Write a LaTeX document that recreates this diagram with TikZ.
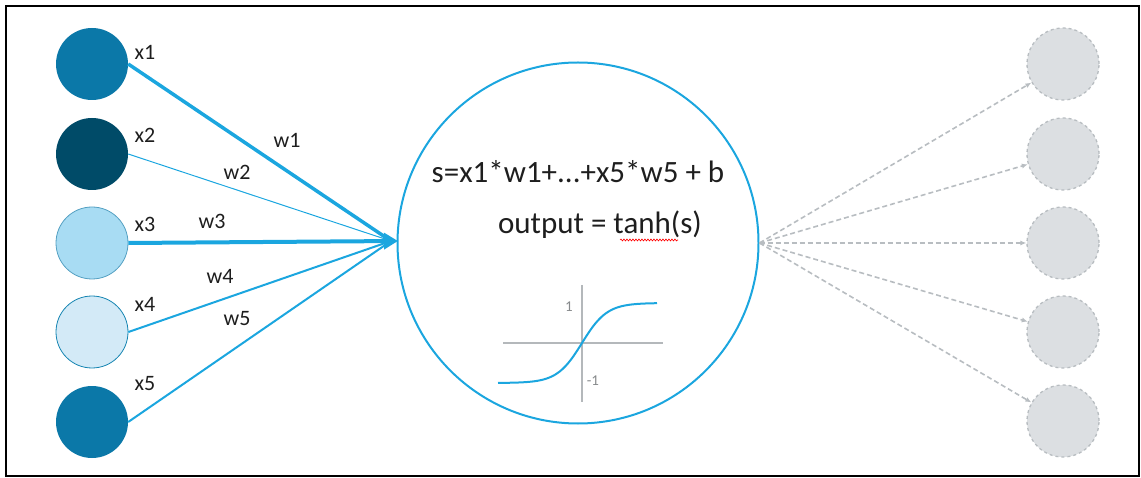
\documentclass[tikz,border=0pt]{standalone}
\usepackage{fontspec}
\setmainfont{Carlito}
\usetikzlibrary{arrows.meta,decorations.pathmorphing}
\definecolor{lineblue}{HTML}{1BA6DF}
\definecolor{midblue}{HTML}{0B78A8}
\definecolor{darkblue}{HTML}{004B68}
\definecolor{lightblue}{HTML}{A8DCF3}
\definecolor{paleblue}{HTML}{D3EAF7}
\definecolor{ghost}{HTML}{DCDFE2}
\definecolor{ghostline}{HTML}{B8BDC1}
\definecolor{axisgray}{HTML}{B4B8BB}
\definecolor{txt}{HTML}{1E1E1E}
\tikzset{
  innode/.style={circle, minimum size=72pt, inner sep=0pt},
  outnode/.style={circle, minimum size=72pt, inner sep=0pt, fill=ghost, draw=ghostline, dashed, line width=1.3pt},
  lbl/.style={font=\fontsize{22}{25}\selectfont, text=txt, inner sep=0pt},
  wire/.style={draw=lineblue},
  outwire/.style={draw=ghostline, dash pattern=on 5pt off 3pt, line width=1.6pt, -{Latex[length=6pt,width=5pt]}},
}
\begin{document}
\begin{tikzpicture}[x=1pt,y=-1pt]
\useasboundingbox (0,0) rectangle (1141,478);
\draw[black, line width=1.8pt] (6,6) rectangle (1139,476);

% input nodes
\node[innode, fill=midblue] (i1) at (92,64) {};
\node[innode, fill=darkblue] (i2) at (92,154) {};
\node[innode, fill=lightblue, draw=midblue!70, line width=0.8pt] (i3) at (92,243) {};
\node[innode, fill=paleblue, draw=lineblue!80!black, line width=0.8pt] (i4) at (92,332) {};
\node[innode, fill=midblue] (i5) at (92,422) {};

% neuron
\node[circle, minimum size=361pt, inner sep=0pt, draw=lineblue, line width=2pt] (n) at (578,243) {};
\coordinate (tip) at (391,241);
\coordinate (tipa) at (398,241);

% input wires
\draw[wire, line width=3.5pt] (i1.east) -- (tip);
\draw[wire, line width=1pt] (i2.east) -- (tip);
\draw[wire, line width=2pt] (i4.east) -- (tip);
\draw[wire, line width=2pt] (i5.east) -- (tip);
\draw[wire, line width=4pt, -{Triangle[length=14pt,width=16pt]}] (i3.east) -- (tipa);

% labels
\node[lbl, anchor=base] (lx1) at (145,60) {x1};
\node[lbl, anchor=base] (lx2) at (145,143) {x2};
\node[lbl, anchor=base] (lx3) at (145,232) {x3};
\node[lbl, anchor=base] (lx4) at (145,312) {x4};
\node[lbl, anchor=base] (lx5) at (145,391) {x5};
\node[lbl, anchor=base] (lw1) at (287,148) {w1};
\node[lbl, anchor=base] (lw2) at (237,180) {w2};
\node[lbl, anchor=base] (lw3) at (212,229) {w3};
\node[lbl, anchor=base] (lw4) at (220,284) {w4};
\node[lbl, anchor=base] (lw5) at (237,326) {w5};

% formulas
\node[font=\fontsize{31}{35}\selectfont, text=txt, inner sep=0pt, anchor=base] (f1) at (578,183) {s=x1*w1+...+x5*w5 + b};
\node[font=\fontsize{31}{35}\selectfont, text=txt, inner sep=0pt, anchor=base] (f2) at (600,234) {output = tanh(s)};
\draw[red, line width=0.6pt, decorate, decoration={snake, amplitude=1pt, segment length=3pt}] (620,240) -- (678,240);

% tanh graph
\draw[axisgray, line width=1.2pt] (503,343) -- (663,343);
\draw[axisgray, line width=1.2pt] (582,285) -- (582,402);
\draw[lineblue, line width=2pt, domain=-84:75, samples=60, smooth] plot ({582+\x},{343-40*tanh(\x/25)});
\node[font=\fontsize{15}{17}\selectfont, text=axisgray!75!black, inner sep=0pt] (one) at (569,307) {1};
\node[font=\fontsize{15}{17}\selectfont, text=axisgray!75!black, inner sep=0pt] (mone) at (593,381) {-1};

% output nodes
\node[outnode] (o1) at (1063,64) {};
\node[outnode] (o2) at (1063,154) {};
\node[outnode] (o3) at (1063,243) {};
\node[outnode] (o4) at (1063,332) {};
\node[outnode] (o5) at (1063,421) {};
\foreach \k in {1,...,5}{\draw[outwire] (n.east) -- (o\k);}
\end{tikzpicture}
\end{document}
